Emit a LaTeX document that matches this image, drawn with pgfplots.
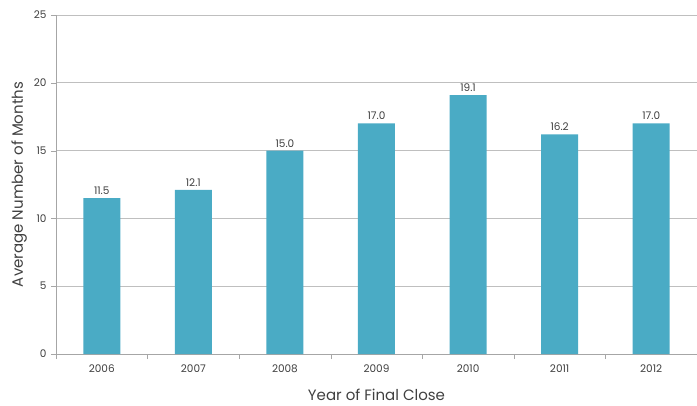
\documentclass[border=0pt]{standalone}
\usepackage{pgfplots}
\pgfplotsset{compat=1.18}
\usepackage{fontspec}
\setmainfont{Poppins}
\definecolor{barcol}{HTML}{4AABC5}
\definecolor{txt}{HTML}{404040}
\definecolor{axcol}{HTML}{A6A6A6}
\definecolor{gridcol}{HTML}{BFBFBF}
\begin{document}
\begin{tikzpicture}
\path[use as bounding box] (-56pt,-51pt) rectangle (641pt,354pt);
\begin{axis}[
    at={(0,0)}, anchor=south west,
    scale only axis,
    width=641pt, height=339pt,
    xmin=-0.5, xmax=6.5,
    ymin=0, ymax=25,
    ytick={0,5,...,25},
    xtick={0,...,6},
    xticklabels={2006,2007,2008,2009,2010,2011,2012},
    minor xtick={-0.5,0.5,...,6.5},
    major x tick style={draw=none},
    minor x tick style={draw=axcol},
    minor tick length=5pt,
    major tick length=5pt,
    tick align=outside,
    axis x line*=bottom,
    axis y line*=left,
    axis line style={draw=axcol, line width=0.9pt, -},
    y tick style={draw=axcol},
    ymajorgrids,
    grid style={draw=gridcol, line width=0.9pt},
    ticklabel style={font=\fontsize{10.5}{12}\selectfont, text=txt},
    /pgf/number format/assume math mode=true,
    yticklabel style={xshift=-1pt},
    xticklabel style={yshift=-2pt},
    xlabel={Year of Final Close},
    ylabel={Average Number of Months},
    label style={font=\fontsize{15}{17}\selectfont, text=txt},
    xlabel style={yshift=-10pt},
    ylabel style={yshift=0pt},
    ybar, bar width=37pt,
    nodes near coords,
    nodes near coords style={font=\fontsize{10.5}{12}\selectfont, text=txt, /pgf/number format/.cd, fixed, fixed zerofill, precision=1, assume math mode=true},
    clip=false,
]
\addplot[fill=barcol, draw=none] coordinates {
    (0,11.5) (1,12.1) (2,15.0) (3,17.0) (4,19.1) (5,16.2) (6,17.0)
};
\end{axis}
\end{tikzpicture}
\end{document}
